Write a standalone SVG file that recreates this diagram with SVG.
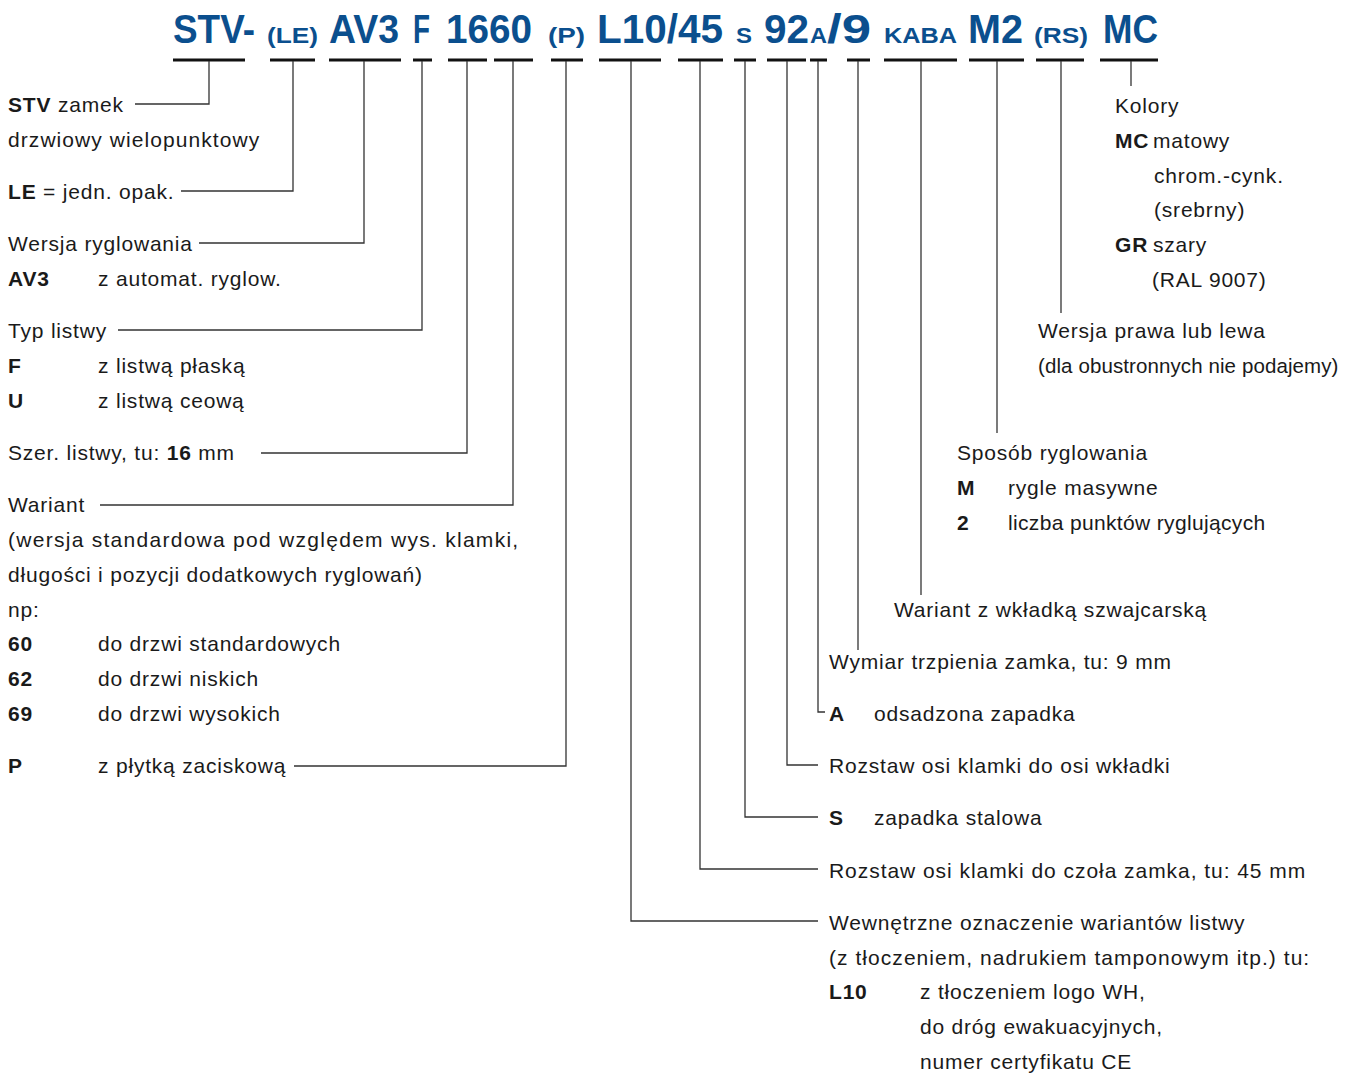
<svg xmlns="http://www.w3.org/2000/svg" width="1347" height="1073" viewBox="0 0 1347 1073">
<style>
.h{font-family:"Liberation Sans",Arial,sans-serif;font-weight:bold;fill:#0b4f8e}
.big{font-size:40px}
.sm{font-size:22px}
.t{font-family:"Liberation Sans",Arial,sans-serif;font-size:21px;fill:#1a1a1a;letter-spacing:0.8px}
.b{font-weight:bold}
.ul{stroke:#111;stroke-width:3;fill:none}
.ln{stroke:#333;stroke-width:1.3;fill:none}
</style>
<rect width="1347" height="1073" fill="#fff"/>
<g id="header">
<text class="h big" x="173" y="43" textLength="82" lengthAdjust="spacingAndGlyphs">STV-</text>
<text class="h sm" x="267" y="43" textLength="51" lengthAdjust="spacingAndGlyphs">(LE)</text>
<text class="h big" x="329" y="43" textLength="70" lengthAdjust="spacingAndGlyphs">AV3</text>
<text class="h big" x="413" y="43" textLength="17" lengthAdjust="spacingAndGlyphs">F</text>
<text class="h big" x="446" y="43" textLength="86" lengthAdjust="spacingAndGlyphs">1660</text>
<text class="h sm" x="548" y="43" textLength="37" lengthAdjust="spacingAndGlyphs">(P)</text>
<text class="h big" x="597" y="43" textLength="126" lengthAdjust="spacingAndGlyphs">L10/45</text>
<text class="h sm" x="736" y="43" textLength="16" lengthAdjust="spacingAndGlyphs">S</text>
<text class="h big" x="764" y="43" textLength="45" lengthAdjust="spacingAndGlyphs">92</text>
<text class="h sm" x="810" y="43" textLength="17" lengthAdjust="spacingAndGlyphs">A</text>
<text class="h big" x="827" y="43" textLength="44" lengthAdjust="spacingAndGlyphs">/9</text>
<text class="h sm" x="884" y="43" textLength="73" lengthAdjust="spacingAndGlyphs">KABA</text>
<text class="h big" x="968" y="43" textLength="55" lengthAdjust="spacingAndGlyphs">M2</text>
<text class="h sm" x="1034" y="43" textLength="54" lengthAdjust="spacingAndGlyphs">(RS)</text>
<text class="h big" x="1103" y="43" textLength="55" lengthAdjust="spacingAndGlyphs">MC</text>
</g>
<g id="underlines">
<path class="ul" d="M173 60H245M270 60H315M329 60H401M413 60H432M448 60H487M494 60H533M551 60H583M599 60H661M678 60H723M734 60H756M767 60H806M810 60H827M847 60H870M884 60H957M969 60H1024M1036 60H1084M1100 60H1158"/>
</g>
<g id="connectors">
<polyline class="ln" points="209,61 209,104 135,104"/>
<polyline class="ln" points="293,61 293,191 181,191"/>
<polyline class="ln" points="364,61 364,243 199,243"/>
<polyline class="ln" points="422,61 422,330 118,330"/>
<polyline class="ln" points="467,61 467,453 261,453"/>
<polyline class="ln" points="513,61 513,505 100,505"/>
<polyline class="ln" points="566,61 566,766 294,766"/>
<polyline class="ln" points="631,61 631,921 818,921"/>
<polyline class="ln" points="700,61 700,869 818,869"/>
<polyline class="ln" points="745,61 745,817 818,817"/>
<polyline class="ln" points="787,61 787,765 818,765"/>
<polyline class="ln" points="818,61 818,712 825,712"/>
<polyline class="ln" points="858,61 858,650"/>
<polyline class="ln" points="921,61 921,595"/>
<polyline class="ln" points="997,61 997,433"/>
<polyline class="ln" points="1061,61 1061,313"/>
<polyline class="ln" points="1131,61 1131,86"/>
</g>
<g id="n-stv">
<text class="t" x="8" y="112"><tspan class="b">STV</tspan> zamek</text>
<text class="t" x="8" y="147" textLength="252" lengthAdjust="spacing">drzwiowy wielopunktowy</text>
</g>
<g id="n-le">
<text class="t" x="8" y="199"><tspan class="b">LE</tspan> = jedn. opak.</text>
</g>
<g id="n-av3">
<text class="t" x="8" y="251">Wersja ryglowania</text>
<text class="t b" x="8" y="286">AV3</text>
<text class="t" x="98" y="286">z automat. ryglow.</text>
</g>
<g id="n-typ">
<text class="t" x="8" y="338">Typ listwy</text>
<text class="t b" x="8" y="373">F</text>
<text class="t" x="98" y="373">z listwą płaską</text>
<text class="t b" x="8" y="408">U</text>
<text class="t" x="98" y="408">z listwą ceową</text>
</g>
<g id="n-szer">
<text class="t" x="8" y="460">Szer. listwy, tu: <tspan class="b">16</tspan> mm</text>
</g>
<g id="n-wariant">
<text class="t" x="8" y="512">Wariant</text>
<text class="t" x="8" y="547" textLength="511" lengthAdjust="spacing">(wersja standardowa pod względem wys. klamki,</text>
<text class="t" x="8" y="582">długości i pozycji dodatkowych ryglowań)</text>
<text class="t" x="8" y="617">np:</text>
<text class="t b" x="8" y="651">60</text>
<text class="t" x="98" y="651">do drzwi standardowych</text>
<text class="t b" x="8" y="686">62</text>
<text class="t" x="98" y="686">do drzwi niskich</text>
<text class="t b" x="8" y="721">69</text>
<text class="t" x="98" y="721">do drzwi wysokich</text>
</g>
<g id="n-p">
<text class="t b" x="8" y="773">P</text>
<text class="t" x="98" y="773">z płytką zaciskową</text>
</g>
<g id="n-kolory">
<text class="t" x="1115" y="113">Kolory</text>
<text class="t b" x="1115" y="148">MC</text>
<text class="t" x="1153" y="148">matowy</text>
<text class="t" x="1154" y="183">chrom.-cynk.</text>
<text class="t" x="1154" y="217">(srebrny)</text>
<text class="t b" x="1115" y="252">GR</text>
<text class="t" x="1153" y="252">szary</text>
<text class="t" x="1152" y="287">(RAL 9007)</text>
</g>
<g id="n-rs">
<text class="t" x="1038" y="338">Wersja prawa lub lewa</text>
<text class="t" x="1038" y="373" style="letter-spacing:0.1px;font-size:20.5px">(dla obustronnych nie podajemy)</text>
</g>
<g id="n-m2">
<text class="t" x="957" y="460">Sposób ryglowania</text>
<text class="t b" x="957" y="495">M</text>
<text class="t" x="1008" y="495">rygle masywne</text>
<text class="t b" x="957" y="530">2</text>
<text class="t" x="1008" y="530" textLength="258" lengthAdjust="spacing">liczba punktów ryglujących</text>
</g>
<g id="n-kaba">
<text class="t" x="894" y="617">Wariant z wkładką szwajcarską</text>
</g>
<g id="n-9">
<text class="t" x="829" y="669">Wymiar trzpienia zamka, tu: 9 mm</text>
</g>
<g id="n-a">
<text class="t b" x="829" y="721">A</text>
<text class="t" x="874" y="721">odsadzona zapadka</text>
</g>
<g id="n-92">
<text class="t" x="829" y="773">Rozstaw osi klamki do osi wkładki</text>
</g>
<g id="n-s">
<text class="t b" x="829" y="825">S</text>
<text class="t" x="874" y="825">zapadka stalowa</text>
</g>
<g id="n-45">
<text class="t" x="829" y="878" textLength="477" lengthAdjust="spacing">Rozstaw osi klamki do czoła zamka, tu: 45 mm</text>
</g>
<g id="n-l10">
<text class="t" x="829" y="930">Wewnętrzne oznaczenie wariantów listwy</text>
<text class="t" x="829" y="965" textLength="481" lengthAdjust="spacing">(z tłoczeniem, nadrukiem tamponowym itp.) tu:</text>
<text class="t b" x="829" y="999">L10</text>
<text class="t" x="920" y="999">z tłoczeniem logo WH,</text>
<text class="t" x="920" y="1034">do dróg ewakuacyjnych,</text>
<text class="t" x="920" y="1069">numer certyfikatu CE</text>
</g>
</svg>
